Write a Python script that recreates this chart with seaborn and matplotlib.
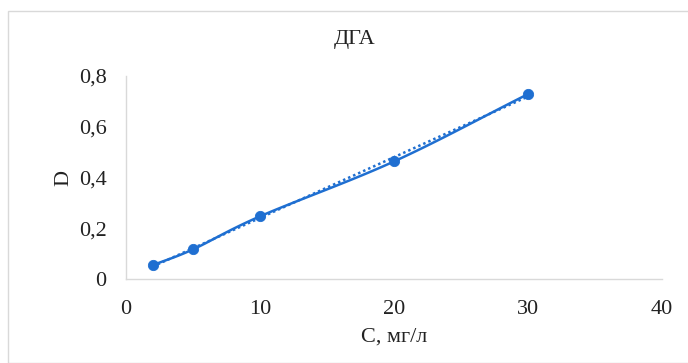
import numpy as np
import pandas as pd
import seaborn as sns
import matplotlib
matplotlib.use("Agg")
import matplotlib.pyplot as plt
from matplotlib.patches import Rectangle

conc = [2, 5, 10, 20, 30]
absorb = [0.055, 0.117, 0.247, 0.463, 0.728]
x_ticks = [0, 10, 20, 30, 40]
y_ticks = [0, 0.2, 0.4, 0.6, 0.8]
y_labels = ["0", "0,2", "0,4", "0,6", "0,8"]

sns.set_theme(style="white")
plt.rcParams['font.family'] = ['Liberation Serif', 'DejaVu Serif']

color = "#1f6fd1"

def catmull_rom(xs, ys, n=30):
    xs = np.asarray(xs, float); ys = np.asarray(ys, float)
    px = np.concatenate([[2*xs[0]-xs[1]], xs, [2*xs[-1]-xs[-2]]])
    py = np.concatenate([[2*ys[0]-ys[1]], ys, [2*ys[-1]-ys[-2]]])
    ox, oy = [], []
    for i in range(1, len(px)-2):
        t = np.linspace(0, 1, n)
        for arr, out in ((px, ox), (py, oy)):
            p0, p1, p2, p3 = arr[i-1], arr[i], arr[i+1], arr[i+2]
            out.extend(0.5*((2*p1) + (-p0+p2)*t + (2*p0-5*p1+4*p2-p3)*t**2 + (-p0+3*p1-3*p2+p3)*t**3))
    return np.array(ox), np.array(oy)

df = pd.DataFrame({"C": conc, "D": absorb})
sx, sy = catmull_rom(conc, absorb)
smooth = pd.DataFrame({"C": sx, "D": sy})
k, b = np.polyfit(conc, absorb, 1)
trend = pd.DataFrame({"C": [conc[0], conc[-1]], "D": [k*conc[0]+b, k*conc[-1]+b]})

fig = plt.figure(figsize=(6.88, 3.63), dpi=100)
ax = fig.add_axes([0.183, 0.231, 0.779, 0.56])

sns.lineplot(data=trend, x="C", y="D", ax=ax, color=color, linestyle=(0, (1, 1.2)), linewidth=1.8, sort=False)
sns.lineplot(data=smooth, x="C", y="D", ax=ax, color=color, linewidth=1.8, sort=False)
sns.scatterplot(data=df, x="C", y="D", ax=ax, color=color, s=55, edgecolor=color, zorder=5)

ax.set_xlim(0, 40)
ax.set_ylim(0, 0.8)
ax.set_xticks(x_ticks)
ax.set_yticks(y_ticks)
ax.set_yticklabels(y_labels)
ax.tick_params(axis='both', labelsize=16, length=0, colors="#222222")
ax.tick_params(axis='x', pad=15)
ax.tick_params(axis='y', pad=14)
for s in ["top", "right"]:
    ax.spines[s].set_visible(False)
for s in ["left", "bottom"]:
    ax.spines[s].set_color("#d9d9d9")
    ax.spines[s].set_linewidth(1)

ax.set_xlabel("С, мг/л", fontsize=16, color="#222222", labelpad=6)
ax.set_ylabel("D", fontsize=16, color="#222222", labelpad=4)
fig.text(0.515, 0.89, "ДГА", ha="center", va="center", fontsize=16, color="#222222")

fig.patches.append(Rectangle((0.012, 0.0), 0.995, 0.97, transform=fig.transFigure,
                             fill=False, edgecolor="#d9d9d9", linewidth=1))

fig.savefig("out.png", dpi=100)
